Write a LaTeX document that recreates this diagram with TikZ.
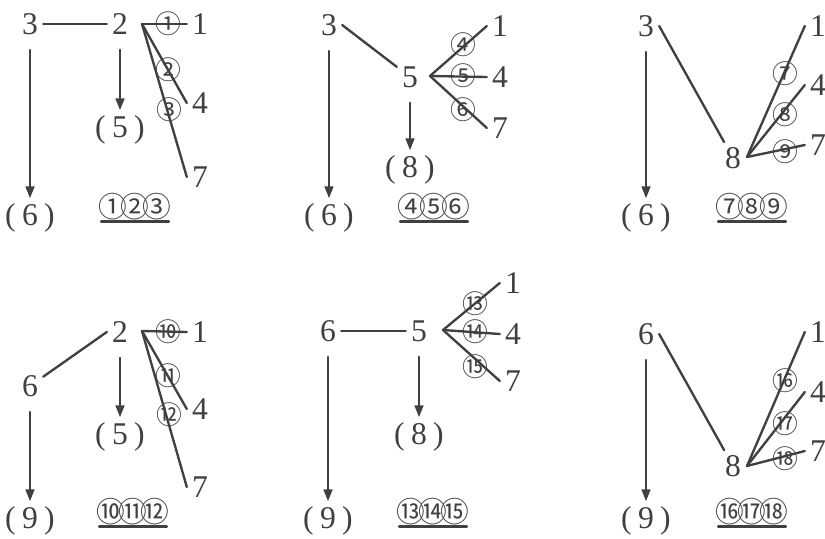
\documentclass[tikz,border=0pt]{standalone}
\usepackage{fontspec}
\setmainfont{Liberation Serif}
\newfontfamily\cjk{Noto Sans CJK SC}
\usetikzlibrary{arrows.meta}
\definecolor{ink}{gray}{0.25}
\newcommand\pn[1]{(\kern.2em#1\kern.2em)}
\newcommand\trio[3]{\kern-.12em#1\kern-.24em#2\kern-.24em#3\kern-.12em}
\begin{document}
\begin{tikzpicture}[x=0.3mm,y=-0.3mm,line width=2pt,line cap=round,draw=ink,
  num/.style={inner sep=3.5pt,text=ink,font=\fontsize{27}{27}\selectfont},
  cn/.style={inner sep=0pt,text=ink,font=\cjk\fontsize{22}{22}\selectfont},
  grp/.style={inner xsep=0pt,inner ysep=0pt,text=ink,font=\cjk\fontsize{24.5}{24.5}\selectfont},
  arr/.style={-{Triangle[length=3.6mm,width=2.6mm]},shorten <=3mm}]
\useasboundingbox (0,0) rectangle (825,538);
% first row, left
\node[num] (a3) at (30,24) {3};
\node[num] (a2) at (120,24) {2};
\node[num] (a1) at (200,24) {1};
\node[num] (a4) at (200,103) {4};
\node[num] (a7) at (200,177) {7};
\node[num] (a5) at (120,130) {\pn{5}};
\node[num] (a6) at (30,218) {\pn{6}};
\coordinate (af) at (142,24);
\draw (a3) -- (a2);
\foreach \t in {1,4,7} \draw (af) -- (a\t.west);
\draw[arr] (a3) -- (a6);
\draw[arr] (a2) -- (a5);
\foreach \i/\s/\x/\y in {1/①/168/24, 2/②/168/70, 3/③/169/110}
  \node[cn] (ac\i) at (\x,\y) {\s};
\node[grp] (ag) at (135,207) {\trio{①}{②}{③}};
\draw (ag.south west) -- (ag.south east);
% first row, middle
\node[num] (b3) at (329,25) {3};
\node[num] (b5) at (410,77) {5};
\node[num] (b1) at (500,26) {1};
\node[num] (b4) at (500,77) {4};
\node[num] (b7) at (500,128) {7};
\node[num] (b8) at (410,170) {\pn{8}};
\node[num] (b6) at (329,218) {\pn{6}};
\coordinate (bf) at (430,76);
\draw (b3.east) -- (b5);
\foreach \t in {1,4,7} \draw (bf) -- (b\t.west);
\draw[arr] (b3) -- (b6);
\draw[arr] (b5) -- (b8);
\foreach \i/\s/\x/\y in {1/④/463/45, 2/⑤/463/76, 3/⑥/463/110}
  \node[cn] (bc\i) at (\x,\y) {\s};
\node[grp] (bg) at (434,207) {\trio{④}{⑤}{⑥}};
\draw (bg.south west) -- (bg.south east);
% first row, right
\node[num] (c3) at (646,26) {3};
\node[num] (c8) at (733,158) {8};
\node[num] (c1) at (818,26) {1};
\node[num] (c4) at (818,85) {4};
\node[num] (c7) at (818,145) {7};
\node[num] (c6) at (646,218) {\pn{6}};
\coordinate (cf) at (747,157);
\draw (c3.east) -- (c8);
\foreach \t in {1,4,7} \draw (cf) -- (c\t.west);
\draw[arr] (c3) -- (c6);
\foreach \i/\s/\x/\y in {1/⑦/785/74, 2/⑧/785/115, 3/⑨/785/152}
  \node[cn] (cc\i) at (\x,\y) {\s};
\node[grp] (cg) at (752,207) {\trio{⑦}{⑧}{⑨}};
\draw (cg.south west) -- (cg.south east);
% second row, left
\node[num] (d2) at (120,332) {2};
\node[num] (d1) at (200,332) {1};
\node[num] (d4) at (200,409) {4};
\node[num] (d7) at (200,487) {7};
\node[num] (d6) at (30,386) {6};
\node[num] (d5) at (120,437) {\pn{5}};
\node[num] (d9) at (30,521) {\pn{9}};
\coordinate (df) at (142,331);
\draw (d6) -- (d2.west);
\foreach \t in {1,4,7} \draw (df) -- (d\t.west);
\draw[arr] (d6) -- (d9);
\draw[arr] (d2) -- (d5);
\foreach \i/\s/\x/\y in {1/⑩/168/332, 2/⑪/168/376, 3/⑫/169/415}
  \node[cn] (dc\i) at (\x,\y) {\s};
\node[grp] (dg) at (133,512) {\trio{⑩}{⑪}{⑫}};
\draw (dg.south west) -- (dg.south east);
% second row, middle
\node[num] (e6) at (328,331) {6};
\node[num] (e5) at (419,331) {5};
\node[num] (e1) at (513,283) {1};
\node[num] (e4) at (513,334) {4};
\node[num] (e7) at (513,381) {7};
\node[num] (e8) at (419,437) {\pn{8}};
\node[num] (e9) at (328,521) {\pn{9}};
\coordinate (ef) at (443,330);
\draw (e6) -- (e5);
\foreach \t in {1,4,7} \draw (ef) -- (e\t.west);
\draw[arr] (e6) -- (e9);
\draw[arr] (e5) -- (e8);
\foreach \i/\s/\x/\y in {1/⑬/475/304, 2/⑭/475/332, 3/⑮/475/367}
  \node[cn] (ec\i) at (\x,\y) {\s};
\node[grp] (eg) at (433,512) {\trio{⑬}{⑭}{⑮}};
\draw (eg.south west) -- (eg.south east);
% second row, right
\node[num] (f6) at (646,334) {6};
\node[num] (f8) at (733,466) {8};
\node[num] (f1) at (818,332) {1};
\node[num] (f4) at (818,392) {4};
\node[num] (f7) at (818,451) {7};
\node[num] (f9) at (646,521) {\pn{9}};
\coordinate (ff) at (747,466);
\draw (f6.east) -- (f8);
\foreach \t in {1,4,7} \draw (ff) -- (f\t.west);
\draw[arr] (f6) -- (f9);
\foreach \i/\s/\x/\y in {1/⑯/785/381, 2/⑰/785/424, 3/⑱/785/459}
  \node[cn] (fc\i) at (\x,\y) {\s};
\node[grp] (fg) at (752,512) {\trio{⑯}{⑰}{⑱}};
\draw (fg.south west) -- (fg.south east);
\end{tikzpicture}
\end{document}
